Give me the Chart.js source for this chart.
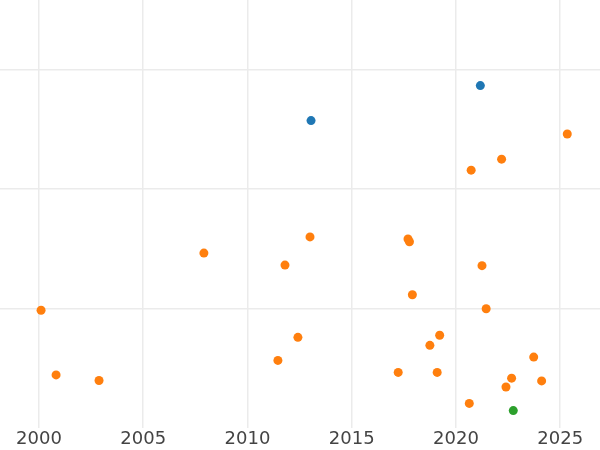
<!DOCTYPE html>
<html>
<head>
<meta charset="utf-8">
<script src="https://cdn.jsdelivr.net/npm/chart.js@4/dist/chart.umd.min.js"></script>
<style>
  html, body { margin: 0; padding: 0; background: #fff; }
  #wrap { width: 600px; height: 450px; }
</style>
</head>
<body>
<div id="wrap"><canvas id="scatterChart"></canvas></div>
<script>
  // Data
  const xTicks = [2000, 2005, 2010, 2015, 2020, 2025];

  const orangeX = [2025.34, 2022.19, 2020.73, 2013.0, 2007.91, 2017.70, 2017.77, 2011.80, 2021.25, 2017.91,
                   2021.45, 2000.10, 2012.42, 2019.22, 2018.75, 2011.46, 2023.73, 2000.82, 2017.23, 2019.10,
                   2022.67, 2002.88, 2024.11, 2022.40, 2020.64];
  const orangeY = [2.46, 2.25, 2.158, 1.60, 1.465, 1.583, 1.56, 1.365, 1.36, 1.117,
                   1.0, 0.987, 0.761, 0.778, 0.694, 0.568, 0.596, 0.447, 0.468, 0.468,
                   0.42, 0.40, 0.397, 0.346, 0.209];

  const blueX = [2021.17, 2013.05];
  const blueY = [2.865, 2.572];

  const greenX = [2022.75];
  const greenY = [0.149];

  const toPoints = (xs, ys) => xs.map((x, i) => ({ x: x, y: ys[i] }));

  const ctx = document.getElementById('scatterChart').getContext('2d');

  const chartData = {
    datasets: [
      {
        label: 'orange',
        data: toPoints(orangeX, orangeY),
        backgroundColor: '#ff7f0e',
        borderWidth: 0,
        pointRadius: 4.5,
        pointHoverRadius: 4.5
      },
      {
        label: 'blue',
        data: toPoints(blueX, blueY),
        backgroundColor: '#1f77b4',
        borderWidth: 0,
        pointRadius: 4.5,
        pointHoverRadius: 4.5
      },
      {
        label: 'green',
        data: toPoints(greenX, greenY),
        backgroundColor: '#2ca02c',
        borderWidth: 0,
        pointRadius: 4.5,
        pointHoverRadius: 4.5
      }
    ]
  };

  const chartConfig = {
    type: 'scatter',
    data: chartData,
    options: {
      responsive: true,
      maintainAspectRatio: false,
      animation: false,
      layout: { padding: 0, autoPadding: false },
      plugins: {
        legend: { display: false },
        tooltip: { enabled: false }
      },
      scales: {
        x: {
          type: 'linear',
          min: 1998.13,
          max: 2026.91,
          afterBuildTicks: axis => { axis.ticks = xTicks.map(v => ({ value: v })); },
          border: { display: false },
          grid: {
            color: '#ebebeb',
            lineWidth: 1.5,
            drawTicks: false
          },
          ticks: {
            padding: 0,
            color: '#444444',
            font: { family: 'DejaVu Sans', size: 18 },
            callback: v => String(v)
          }
        },
        y: {
          min: 0,
          max: 3.58,
          afterBuildTicks: axis => { axis.ticks = [1, 2, 3].map(v => ({ value: v })); },
          border: { display: false },
          grid: {
            color: '#ebebeb',
            lineWidth: 1.5,
            drawTicks: false
          },
          ticks: { display: false }
        }
      }
    }
  };

  const scatterChart = new Chart(ctx, chartConfig);
</script>
</body>
</html>
